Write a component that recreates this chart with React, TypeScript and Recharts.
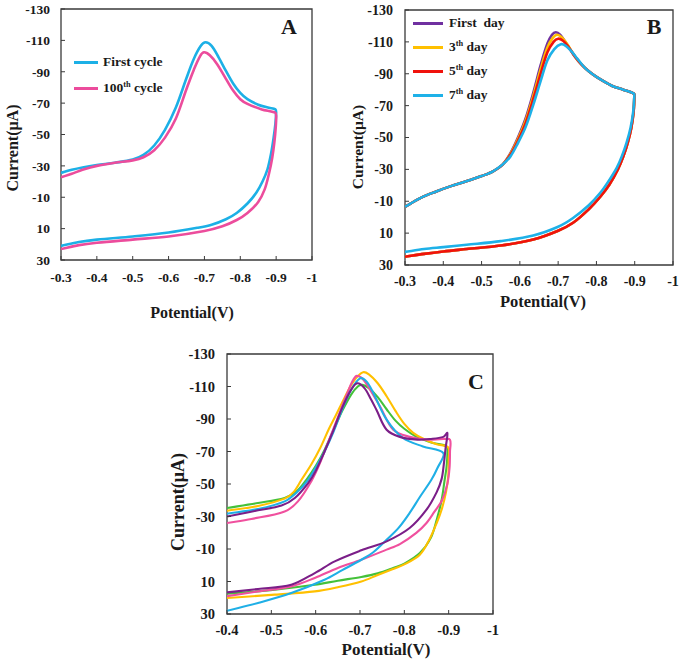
import { LineChart, Line, XAxis, YAxis, ReferenceArea, Legend } from "recharts";

type Pt = [number, number];

// ---- Panel A: first vs 100th cycle (potential V, current µA) ----
const aFirstCycle: Pt[] = [
  [-0.3, -25.5], [-0.33, -27.5], [-0.36, -29], [-0.4, -30.5], [-0.45, -32], [-0.5, -34],
  [-0.53, -37], [-0.56, -43], [-0.59, -53], [-0.62, -67], [-0.65, -86], [-0.67, -98],
  [-0.69, -106.5], [-0.703, -108.8], [-0.72, -106.5], [-0.74, -99], [-0.76, -90.5],
  [-0.78, -82.5], [-0.8, -76.5], [-0.82, -72.5], [-0.85, -69], [-0.88, -67], [-0.898, -66],
  [-0.9, -64], [-0.898, -57], [-0.893, -48], [-0.886, -38], [-0.876, -28], [-0.862, -20],
  [-0.845, -13], [-0.82, -6], [-0.79, 0], [-0.76, 4], [-0.72, 7.5], [-0.68, 9.5],
  [-0.6, 12.5], [-0.5, 15], [-0.4, 17], [-0.35, 18.5], [-0.3, 21],
];
const a100thCycle: Pt[] = [
  [-0.3, -22.7], [-0.33, -25], [-0.36, -27.5], [-0.4, -30], [-0.45, -32], [-0.5, -33.5],
  [-0.53, -35.5], [-0.56, -40], [-0.59, -48], [-0.62, -60], [-0.65, -79], [-0.67, -91],
  [-0.688, -100], [-0.699, -102.4], [-0.715, -100.5], [-0.735, -95], [-0.76, -85.5],
  [-0.78, -78], [-0.8, -72.5], [-0.82, -69.5], [-0.86, -66], [-0.897, -64],
  [-0.9, -62], [-0.899, -55], [-0.895, -45], [-0.889, -35], [-0.88, -25], [-0.868, -15],
  [-0.85, -7], [-0.82, 0], [-0.79, 4.5], [-0.75, 8.5], [-0.7, 11.5], [-0.6, 15],
  [-0.5, 17], [-0.4, 19], [-0.35, 20.5], [-0.3, 23],
];

// ---- Panel B: storage stability ----
const bFirstDay: Pt[] = [
  [-0.3, -6.5], [-0.34, -12], [-0.38, -16], [-0.42, -19.5], [-0.46, -22.5], [-0.5, -25.8],
  [-0.53, -28.8], [-0.555, -33], [-0.575, -40], [-0.595, -50], [-0.615, -62], [-0.635, -78],
  [-0.655, -96], [-0.672, -109], [-0.684, -114.5], [-0.694, -116], [-0.705, -114.5],
  [-0.72, -109.5], [-0.74, -102], [-0.76, -96], [-0.78, -91.5], [-0.8, -88], [-0.84, -82.5],
  [-0.87, -80], [-0.898, -77.5],
  [-0.899, -76], [-0.897, -66], [-0.891, -56], [-0.882, -47], [-0.87, -38], [-0.856, -30],
  [-0.834, -20.5], [-0.809, -12.5], [-0.78, -5], [-0.739, 3.5], [-0.7, 8.5], [-0.635, 14],
  [-0.55, 17.8], [-0.461, 20], [-0.4, 21.5], [-0.35, 23], [-0.3, 24.8],
];
const bThirdDay: Pt[] = [
  [-0.3, -6.5], [-0.34, -12], [-0.38, -16], [-0.42, -19.5], [-0.46, -22.5], [-0.5, -25.8],
  [-0.53, -28.8], [-0.555, -33], [-0.575, -39.5], [-0.595, -49], [-0.615, -60.5], [-0.635, -76],
  [-0.655, -93.5], [-0.672, -106.5], [-0.686, -112.5], [-0.697, -114.5], [-0.709, -113],
  [-0.724, -108.5], [-0.742, -101.5], [-0.76, -96], [-0.78, -91.5], [-0.8, -88], [-0.84, -82.5],
  [-0.87, -80], [-0.898, -77.5],
  [-0.899, -76], [-0.897, -66], [-0.891, -56], [-0.882, -47], [-0.87, -38], [-0.856, -30],
  [-0.834, -20.5], [-0.809, -12.5], [-0.78, -5], [-0.739, 3.5], [-0.7, 8.5], [-0.635, 14],
  [-0.55, 17.8], [-0.461, 20], [-0.4, 21.5], [-0.35, 23], [-0.3, 24.8],
];
const bFifthDay: Pt[] = [
  [-0.3, -6.5], [-0.34, -12], [-0.38, -16], [-0.42, -19.5], [-0.46, -22.5], [-0.5, -25.8],
  [-0.53, -28.8], [-0.555, -33], [-0.575, -39], [-0.595, -48], [-0.615, -59], [-0.635, -74],
  [-0.655, -90.5], [-0.672, -103.5], [-0.688, -110], [-0.7, -112], [-0.712, -110.8],
  [-0.728, -106.5], [-0.745, -100.5], [-0.762, -95.5], [-0.78, -91.5], [-0.8, -88], [-0.84, -82.5],
  [-0.87, -80], [-0.898, -77.5],
  [-0.899, -76], [-0.897, -66], [-0.891, -56], [-0.882, -47], [-0.87, -38], [-0.856, -30],
  [-0.834, -20.5], [-0.809, -12.5], [-0.78, -5], [-0.739, 3.5], [-0.7, 8.5], [-0.635, 14],
  [-0.55, 17.8], [-0.461, 20], [-0.4, 21.5], [-0.35, 23], [-0.3, 24.8],
];
const bSeventhDay: Pt[] = [
  [-0.3, -6.5], [-0.34, -12], [-0.38, -16], [-0.42, -19.5], [-0.46, -22.5], [-0.5, -25.8],
  [-0.53, -28.8], [-0.555, -33], [-0.575, -38], [-0.595, -46.5], [-0.615, -56.5], [-0.635, -70.5],
  [-0.655, -86], [-0.672, -98.5], [-0.69, -105.5], [-0.707, -108.5], [-0.72, -107.5],
  [-0.735, -104], [-0.75, -99.5], [-0.765, -95], [-0.78, -91.5], [-0.8, -88], [-0.84, -82.5],
  [-0.87, -80], [-0.898, -77.5],
  [-0.899, -76], [-0.896, -66], [-0.889, -56], [-0.879, -47], [-0.866, -38], [-0.853, -31],
  [-0.83, -22], [-0.809, -15], [-0.78, -7.5], [-0.739, 0.5], [-0.7, 6], [-0.635, 11.5],
  [-0.55, 15], [-0.461, 17.3], [-0.4, 18.8], [-0.35, 20], [-0.3, 21.8],
];

// ---- Panel C: five electrodes ----
const cGreen: Pt[] = [
  [-0.4, -35.2], [-0.47, -38.3], [-0.53, -41.4], [-0.557, -45.5], [-0.579, -52.6], [-0.6, -61],
  [-0.62, -71], [-0.64, -83], [-0.66, -95], [-0.68, -105], [-0.695, -110], [-0.705, -111],
  [-0.72, -109], [-0.74, -103.5], [-0.76, -96], [-0.78, -89], [-0.8, -84], [-0.828, -79],
  [-0.865, -75.2], [-0.895, -73.1],
  [-0.897, -68], [-0.895, -60], [-0.891, -52.6], [-0.884, -40], [-0.873, -28], [-0.86, -17],
  [-0.835, -7.5], [-0.8, -1], [-0.775, 1.7], [-0.74, 5], [-0.703, 7.2], [-0.65, 9.5],
  [-0.598, 12], [-0.508, 15], [-0.45, 16.5], [-0.4, 17.5],
];
const cYellow: Pt[] = [
  [-0.4, -33.5], [-0.47, -36.5], [-0.53, -41], [-0.55, -45], [-0.568, -52.6], [-0.59, -62],
  [-0.61, -72], [-0.63, -84], [-0.645, -92], [-0.665, -103], [-0.685, -113], [-0.706, -118.7],
  [-0.72, -117.5], [-0.74, -112], [-0.76, -104], [-0.78, -95], [-0.8, -87], [-0.82, -81.5],
  [-0.845, -77.5], [-0.873, -74.5], [-0.899, -72.5],
  [-0.9, -65], [-0.899, -55], [-0.894, -45], [-0.885, -35], [-0.873, -26], [-0.855, -15],
  [-0.835, -6.5], [-0.8, -0.5], [-0.775, 2.3], [-0.74, 6], [-0.703, 10], [-0.65, 13.5],
  [-0.598, 16.1], [-0.508, 18.1], [-0.45, 19.2], [-0.4, 20.2],
];
const cPink: Pt[] = [
  [-0.4, -26], [-0.455, -28.5], [-0.53, -33.1], [-0.56, -39.3], [-0.59, -51.6], [-0.61, -63],
  [-0.63, -77], [-0.65, -91], [-0.67, -105], [-0.69, -116.2], [-0.705, -115], [-0.725, -107],
  [-0.745, -97.8], [-0.775, -83.4], [-0.812, -79], [-0.85, -77.3], [-0.888, -77.7], [-0.903, -77.3],
  [-0.903, -70], [-0.902, -60], [-0.897, -50], [-0.885, -40], [-0.868, -33], [-0.85, -26],
  [-0.827, -19.9], [-0.79, -13], [-0.76, -9.6], [-0.703, -3.4], [-0.65, 1.7], [-0.598, 7.8],
  [-0.545, 13], [-0.47, 16.1], [-0.4, 19],
];
const cBlue: Pt[] = [
  [-0.4, -31.7], [-0.47, -34.6], [-0.53, -39.3], [-0.56, -45.5], [-0.583, -52.6], [-0.6, -60],
  [-0.62, -70], [-0.64, -82], [-0.66, -96], [-0.68, -108], [-0.7, -115], [-0.715, -113],
  [-0.73, -106], [-0.76, -89.6], [-0.797, -78.3], [-0.842, -73.1], [-0.888, -69],
  [-0.875, -60], [-0.861, -52.6], [-0.835, -42], [-0.812, -32.2], [-0.787, -23], [-0.76, -15.7],
  [-0.73, -8], [-0.703, -3.4], [-0.66, 3], [-0.62, 8.9], [-0.545, 17.1], [-0.47, 23.2], [-0.4, 28],
];
const cPurple: Pt[] = [
  [-0.4, -30], [-0.47, -33.8], [-0.523, -36.7], [-0.553, -41.4], [-0.583, -50.6], [-0.6, -58],
  [-0.62, -70], [-0.64, -83], [-0.66, -97], [-0.68, -108], [-0.694, -112], [-0.71, -109],
  [-0.725, -102], [-0.737, -95.7], [-0.76, -83.4], [-0.79, -79], [-0.83, -77.3], [-0.858, -77.7],
  [-0.888, -79], [-0.897, -81.4],
  [-0.893, -72], [-0.889, -62], [-0.884, -53], [-0.873, -45], [-0.85, -34.2], [-0.812, -22.9],
  [-0.76, -14.7], [-0.703, -9.2], [-0.643, -2.4], [-0.598, 4.8], [-0.545, 12], [-0.47, 14.6],
  [-0.4, 16.7],
];

const yTicks = [-130, -110, -90, -70, -50, -30, -10, 10, 30];
const xTicksAB = [-1, -0.9, -0.8, -0.7, -0.6, -0.5, -0.4, -0.3];
const xTicksC = [-1, -0.9, -0.8, -0.7, -0.6, -0.5, -0.4];

const FONT = '"Liberation Serif", "Times New Roman", serif';
const INK = "#1a1a1a";
const FRAME = "#3a3a3a";

const toRows = (pts: Pt[]) => pts.map(([x, y]) => ({ x, y }));

// Catmull-Rom style curve scaled by segment length, so loops and the sharp
// turn at -0.9 V stay smooth without overshoot.
function loopCurve(context: any) {
  let pts: number[][] = [];
  return {
    areaStart() {},
    areaEnd() {},
    lineStart() {
      pts = [];
    },
    point(x: number, y: number) {
      pts.push([+x, +y]);
    },
    lineEnd() {
      const n = pts.length;
      if (!n) return;
      const d = (a: number[], b: number[]) => Math.hypot(b[0] - a[0], b[1] - a[1]);
      context.moveTo(pts[0][0], pts[0][1]);
      for (let i = 0; i < n - 1; i++) {
        const p0 = pts[Math.max(i - 1, 0)];
        const p1 = pts[i];
        const p2 = pts[i + 1];
        const p3 = pts[Math.min(i + 2, n - 1)];
        const d01 = d(p0, p1), d12 = d(p1, p2), d23 = d(p2, p3);
        const k1 = d01 + d12 > 0 ? d12 / (3 * (d01 + d12)) : 0;
        const k2 = d12 + d23 > 0 ? d12 / (3 * (d12 + d23)) : 0;
        context.bezierCurveTo(
          p1[0] + (p2[0] - p0[0]) * k1,
          p1[1] + (p2[1] - p0[1]) * k1,
          p2[0] - (p3[0] - p1[0]) * k2,
          p2[1] - (p3[1] - p1[1]) * k2,
          p2[0],
          p2[1]
        );
      }
    },
  };
}

type Series = { name: string; color: string; pts: Pt[] };
type LegendItem = { color: string; text: string; sup?: string; tail?: string };

function LegendBox({ items, lineLen, rowH, gap, fontSize }: { items: LegendItem[]; lineLen: number; rowH: number; gap: number; fontSize: number }) {
  return (
    <div style={{ fontFamily: FONT, fontWeight: "bold", fontSize, color: INK }}>
      {items.map((it) => (
        <div key={it.text + (it.tail || "")} style={{ display: "flex", alignItems: "center", height: rowH }}>
          <span style={{ display: "inline-block", width: lineLen, height: 3, background: it.color, marginRight: gap }} />
          <span style={{ whiteSpace: "pre", lineHeight: 1 }}>
            {it.text}
            {it.sup && <span style={{ fontSize: "0.62em", position: "relative", top: "-0.6em" }}>{it.sup}</span>}
            {it.tail}
          </span>
        </div>
      ))}
    </div>
  );
}

function Panel(props: {
  left: number; top: number; width: number; height: number;
  margin: { top: number; right: number; bottom: number; left: number };
  yAxisWidth: number; xAxisHeight: number; xTicks: number[]; xMax: number;
  tickFont: number; yTickMargin: number; xTickMargin: number;
  series: Series[]; lineWidth: number;
  legend?: { items: LegendItem[]; left: number; top: number; lineLen: number; rowH: number; gap: number; fontSize: number };
}) {
  const tickStyle = { fill: INK, fontSize: props.tickFont, fontWeight: "bold", fontFamily: FONT };
  return (
    <div style={{ position: "absolute", left: props.left, top: props.top, fontFamily: FONT }}>
      <LineChart width={props.width} height={props.height} margin={props.margin}>
        <XAxis
          dataKey="x"
          type="number"
          domain={[-1, props.xMax]}
          ticks={props.xTicks}
          interval={0}
          reversed
          allowDataOverflow
          height={props.xAxisHeight}
          axisLine={false}
          tickLine={{ stroke: FRAME }}
          tickSize={-4}
          tickMargin={props.xTickMargin}
          tick={tickStyle}
          tickFormatter={(v: number) => String(Math.round(v * 10) / 10)}
        />
        <YAxis
          type="number"
          domain={[-130, 30]}
          ticks={yTicks}
          interval={0}
          reversed
          allowDataOverflow
          width={props.yAxisWidth}
          axisLine={false}
          tickLine={{ stroke: FRAME }}
          tickSize={-4}
          tickMargin={props.yTickMargin}
          tick={tickStyle}
        />
        <ReferenceArea x1={-1} x2={props.xMax} y1={-130} y2={30} fill="none" stroke={FRAME} strokeWidth={1.3} />
        {props.series.map((s) => (
          <Line
            key={s.name}
            name={s.name}
            data={toRows(s.pts)}
            dataKey="y"
            type={loopCurve as any}
            stroke={s.color}
            strokeWidth={props.lineWidth}
            dot={false}
            activeDot={false}
            isAnimationActive={false}
          />
        ))}
        {props.legend && (
          <Legend
            layout="horizontal"
            verticalAlign="middle"
            align="center"
            wrapperStyle={{ left: props.legend.left, top: props.legend.top, width: "auto", height: "auto" }}
            content={() => (
              <LegendBox
                items={props.legend!.items}
                lineLen={props.legend!.lineLen}
                rowH={props.legend!.rowH}
                gap={props.legend!.gap}
                fontSize={props.legend!.fontSize}
              />
            )}
          />
        )}
      </LineChart>
    </div>
  );
}

function Title({ x, y, size, text, vertical }: { x: number; y: number; size: number; text: string; vertical?: boolean }) {
  return (
    <div
      style={{
        position: "absolute",
        left: x,
        top: y,
        transform: `translate(-50%, -50%)${vertical ? " rotate(-90deg)" : ""}`,
        whiteSpace: "nowrap",
        fontFamily: FONT,
        fontWeight: "bold",
        fontSize: size,
        color: INK,
        lineHeight: 1,
      }}
    >
      {text}
    </div>
  );
}

export default function App() {
  const seriesA: Series[] = [
    { name: "First cycle", color: "#1CB0E6", pts: aFirstCycle },
    { name: "100th cycle", color: "#EC4C9C", pts: a100thCycle },
  ];
  const seriesB: Series[] = [
    { name: "First day", color: "#7030A0", pts: bFirstDay },
    { name: "3th day", color: "#FFC000", pts: bThirdDay },
    { name: "5th day", color: "#F0120C", pts: bFifthDay },
    { name: "7th day", color: "#1EB1E8", pts: bSeventhDay },
  ];
  const seriesC: Series[] = [
    { name: "green", color: "#44C13A", pts: cGreen },
    { name: "yellow", color: "#FFC000", pts: cYellow },
    { name: "pink", color: "#F0509E", pts: cPink },
    { name: "blue", color: "#1FAFE6", pts: cBlue },
    { name: "purple", color: "#7B1E88", pts: cPurple },
  ];

  return (
    <div style={{ position: "absolute", left: 0, top: 0, width: 685, height: 661, background: "#fff", fontFamily: FONT }}>
      <style>{`.recharts-cartesian-axis-tick-value { font-family: ${FONT}; font-weight: 700; }`}</style>
      <Panel
        left={0} top={0} width={340} height={330}
        margin={{ top: 9, right: 28, bottom: 0, left: 0 }}
        yAxisWidth={61} xAxisHeight={70} xTicks={xTicksAB} xMax={-0.3}
        tickFont={13.5} yTickMargin={15} xTickMargin={16}
        series={seriesA} lineWidth={2.6}
        legend={{
          left: 74, top: 49, lineLen: 24, rowH: 26, gap: 5, fontSize: 13.5,
          items: [
            { color: "#1CB0E6", text: "First cycle" },
            { color: "#EC4C9C", text: "100", sup: "th", tail: " cycle" },
          ],
        }}
      />
      <Panel
        left={340} top={0} width={345} height={330}
        margin={{ top: 10, right: 12, bottom: 0, left: 0 }}
        yAxisWidth={65} xAxisHeight={65} xTicks={xTicksAB} xMax={-0.3}
        tickFont={14} yTickMargin={16} xTickMargin={15.5}
        series={seriesB} lineWidth={2.6}
        legend={{
          left: 73, top: 11, lineLen: 30, rowH: 24, gap: 6, fontSize: 13.5,
          items: [
            { color: "#7030A0", text: "First  day" },
            { color: "#FFC000", text: "3", sup: "th", tail: " day" },
            { color: "#F0120C", text: "5", sup: "th", tail: " day" },
            { color: "#1EB1E8", text: "7", sup: "th", tail: " day" },
          ],
        }}
      />
      <Panel
        left={160} top={330} width={380} height={331}
        margin={{ top: 24, right: 47, bottom: 0, left: 0 }}
        yAxisWidth={67} xAxisHeight={47} xTicks={xTicksC} xMax={-0.4}
        tickFont={14.5} yTickMargin={16} xTickMargin={15}
        series={seriesC} lineWidth={2.1}
      />

      <Title x={192} y={313} size={16} text="Potential(V)" />
      <Title x={13} y={148} size={16} text="Current(μA)" vertical />
      <Title x={289} y={27} size={22} text="A" />

      <Title x={543} y={302} size={16.5} text="Potential(V)" />
      <Title x={358} y={147} size={15.5} text="Current(μA)" vertical />
      <Title x={654} y={27} size={22} text="B" />

      <Title x={386} y={649} size={17} text="Potential(V)" />
      <Title x={178} y={502} size={18} text="Current(μA)" vertical />
      <Title x={476} y={382} size={22} text="C" />
    </div>
  );
}
